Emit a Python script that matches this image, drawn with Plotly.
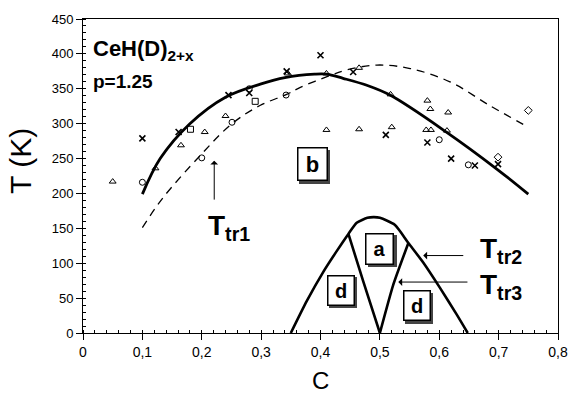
import plotly.graph_objects as go

# ---- data ----
ttr1_x = [0.10, 0.13, 0.18, 0.24, 0.30, 0.34, 0.39, 0.41, 0.438, 0.478, 0.517, 0.612, 0.697, 0.75]
ttr1_y = [199, 250, 300, 338, 357, 366, 371, 371, 365, 355, 341, 288, 235, 199]

dash_x = [0.10, 0.133, 0.197, 0.251, 0.298, 0.343, 0.366, 0.416, 0.444, 0.495, 0.551, 0.618, 0.685, 0.75]
dash_y = [151, 192, 254, 300, 326, 342, 352, 369, 377, 384, 379, 360, 326, 295]

ttr2_x = [0.35, 0.377, 0.405, 0.427, 0.447, 0.461, 0.479, 0.49, 0.50, 0.525, 0.548, 0.573, 0.601, 0.629, 0.648]
ttr2_y = [0, 46, 88, 117, 142, 158, 165, 166, 165, 155, 129, 101, 65, 27, 0]

ttr3_left_x = [0.447, 0.472, 0.50]
ttr3_left_y = [142, 74, 0]
ttr3_right_x = [0.50, 0.5225, 0.548]
ttr3_right_y = [0, 69, 129]

tri_x = [0.05, 0.122, 0.165, 0.205, 0.24, 0.345, 0.41, 0.465, 0.518, 0.41, 0.465, 0.52, 0.58, 0.585, 0.615, 0.578, 0.586, 0.613]
tri_y = [217, 236, 269, 288, 311, 372, 372, 380, 342, 291, 292, 295, 333, 321, 316, 291, 291, 290]
cross_x = [0.10, 0.161, 0.245, 0.28, 0.343, 0.40, 0.455, 0.51, 0.58, 0.62, 0.66, 0.699]
cross_y = [279, 288, 341, 344, 375, 398, 374, 284, 273, 250, 240, 242]
circ_x = [0.10, 0.20, 0.251, 0.28, 0.342, 0.60, 0.649]
circ_y = [216, 251, 302, 350, 341, 277, 241]
sq_x = [0.181, 0.29]
sq_y = [292, 332]
dia_x = [0.699, 0.75]
dia_y = [252, 319]

x_ticks = [0, 0.1, 0.2, 0.3, 0.4, 0.5, 0.6, 0.7, 0.8]
x_ticklabels = ["0", "0,1", "0,2", "0,3", "0,4", "0,5", "0,6", "0,7", "0,8"]
y_ticks = [0, 50, 100, 150, 200, 250, 300, 350, 400, 450]

FONT = "Liberation Sans, Arial, sans-serif"

fig = go.Figure()

fig.add_trace(go.Scatter(x=ttr1_x, y=ttr1_y, mode="lines",
                         line=dict(color="black", width=2.8, shape="spline", smoothing=1.0), name="Ttr1"))
fig.add_trace(go.Scatter(x=dash_x, y=dash_y, mode="lines",
                         line=dict(color="black", width=1.3, dash="8px,6px", shape="spline", smoothing=1.0),
                         name="Ttr1 (D)"))
fig.add_trace(go.Scatter(x=ttr2_x, y=ttr2_y, mode="lines",
                         line=dict(color="black", width=2.6, shape="spline", smoothing=0.6), name="Ttr2"))
fig.add_trace(go.Scatter(x=ttr3_left_x, y=ttr3_left_y, mode="lines",
                         line=dict(color="black", width=2.6, shape="spline", smoothing=0.5), name="Ttr3 left"))
fig.add_trace(go.Scatter(x=ttr3_right_x, y=ttr3_right_y, mode="lines",
                         line=dict(color="black", width=2.6, shape="spline", smoothing=0.5), name="Ttr3 right"))

mk = dict(color="black", size=6, line=dict(color="black", width=1))
fig.add_trace(go.Scatter(x=tri_x, y=tri_y, mode="markers", marker=dict(symbol="triangle-up-open", **mk), name="tri"))
fig.add_trace(go.Scatter(x=cross_x, y=cross_y, mode="markers",
                         marker=dict(symbol="x-thin-open", color="black", size=6, line=dict(color="black", width=1.6)), name="x"))
fig.add_trace(go.Scatter(x=circ_x, y=circ_y, mode="markers", marker=dict(symbol="circle-open", **mk), name="o"))
fig.add_trace(go.Scatter(x=sq_x, y=sq_y, mode="markers", marker=dict(symbol="square-open", **mk), name="sq"))
fig.add_trace(go.Scatter(x=dia_x, y=dia_y, mode="markers", marker=dict(symbol="diamond-open", **mk), name="dia"))

ann = []
# title texts
ann.append(dict(x=0.014, y=428, xref="x", yref="y", xanchor="left", yanchor="top", showarrow=False,
                text="<b>CeH(D)<sub>2+x</sub></b>", font=dict(size=22, color="black", family=FONT)))
ann.append(dict(x=0.013, y=360, xref="x", yref="y", xanchor="left", yanchor="middle", showarrow=False,
                text="<b>p=1.25</b>", font=dict(size=19, color="black", family=FONT)))

# axis titles
ann.append(dict(x=-0.1305, y=0.548, xref="paper", yref="paper", xanchor="center", yanchor="middle",
                showarrow=False, textangle=-90, text="T (K)",
                font=dict(size=30, color="black", family=FONT)))
ann.append(dict(x=0.5, y=-0.2, xref="paper", yref="paper", xanchor="center", yanchor="bottom",
                showarrow=False, text="C", font=dict(size=24, color="black", family=FONT)))

# boxed labels with drop shadow
boxes = [("b", 0.386, 242, 22, 28, 31), ("a", 0.500, 121, 20, 26, 29),
         ("d", 0.434, 61, 20, 25, 28), ("d", 0.562, 39, 20, 25, 28)]
for t, bx, by, fs, w, h in boxes:
    ann.append(dict(x=bx, y=by, xref="x", yref="y", showarrow=False, text="<b>%s</b>" % t,
                    font=dict(size=fs, color="#444", family=FONT), width=w, height=h,
                    bgcolor="#444", bordercolor="#444", borderwidth=1.5, borderpad=0,
                    xshift=2.5, yshift=-2.5))
    ann.append(dict(x=bx, y=by, xref="x", yref="y", showarrow=False, text="<b>%s</b>" % t,
                    font=dict(size=fs, color="black", family=FONT), width=w, height=h,
                    bgcolor="white", bordercolor="black", borderwidth=1.5, borderpad=0))

# arrows
arrow = dict(showarrow=True, arrowhead=1, arrowsize=1.3, arrowwidth=1, arrowcolor="black",
             axref="x", ayref="y", xref="x", yref="y", text="")
ann.append(dict(x=0.221, y=247, ax=0.221, ay=189, **arrow))
ann.append(dict(x=0.573, y=111, ax=0.643, ay=111, **arrow))
ann.append(dict(x=0.531, y=73, ax=0.650, ay=73, **arrow))

# T labels
tl = dict(xref="x", yref="y", showarrow=False, xanchor="left", yanchor="middle",
          font=dict(size=28, color="black", family=FONT))
ann.append(dict(x=0.207, y=151, text="<b>T<sub>tr1</sub></b>", **tl))
ann.append(dict(x=0.665, y=118, text="<b>T<sub>tr2</sub></b>", **tl))
ann.append(dict(x=0.665, y=67, text="<b>T<sub>tr3</sub></b>", **tl))

fig.update_layout(
    width=569, height=396,
    margin=dict(l=83, r=11, t=19, b=63, autoexpand=False),
    paper_bgcolor="white", plot_bgcolor="white",
    showlegend=False,
    font=dict(family=FONT, color="black"),
    annotations=ann,
)
fig.update_xaxes(
    range=[0, 0.8], tickvals=x_ticks, ticktext=x_ticklabels, automargin=False,
    showline=True, linecolor="black", linewidth=1, mirror=True,
    ticks="outside", ticklen=6, tickwidth=1, tickcolor="black",
    minor=dict(dtick=0.02, ticks="inside", ticklen=3, tickcolor="black", tickwidth=1),
    showgrid=False, zeroline=False,
    tickfont=dict(size=14, family=FONT, color="black"),
)
fig.update_yaxes(
    range=[0, 450], tickvals=y_ticks, automargin=False,
    showline=True, linecolor="black", linewidth=1, mirror=True,
    ticks="outside", ticklen=6, tickwidth=1, tickcolor="black",
    minor=dict(dtick=10, ticks="inside", ticklen=3, tickcolor="black", tickwidth=1),
    showgrid=False, zeroline=False,
    tickfont=dict(size=13, family=FONT, color="black"),
)

fig.write_html("out.html")
